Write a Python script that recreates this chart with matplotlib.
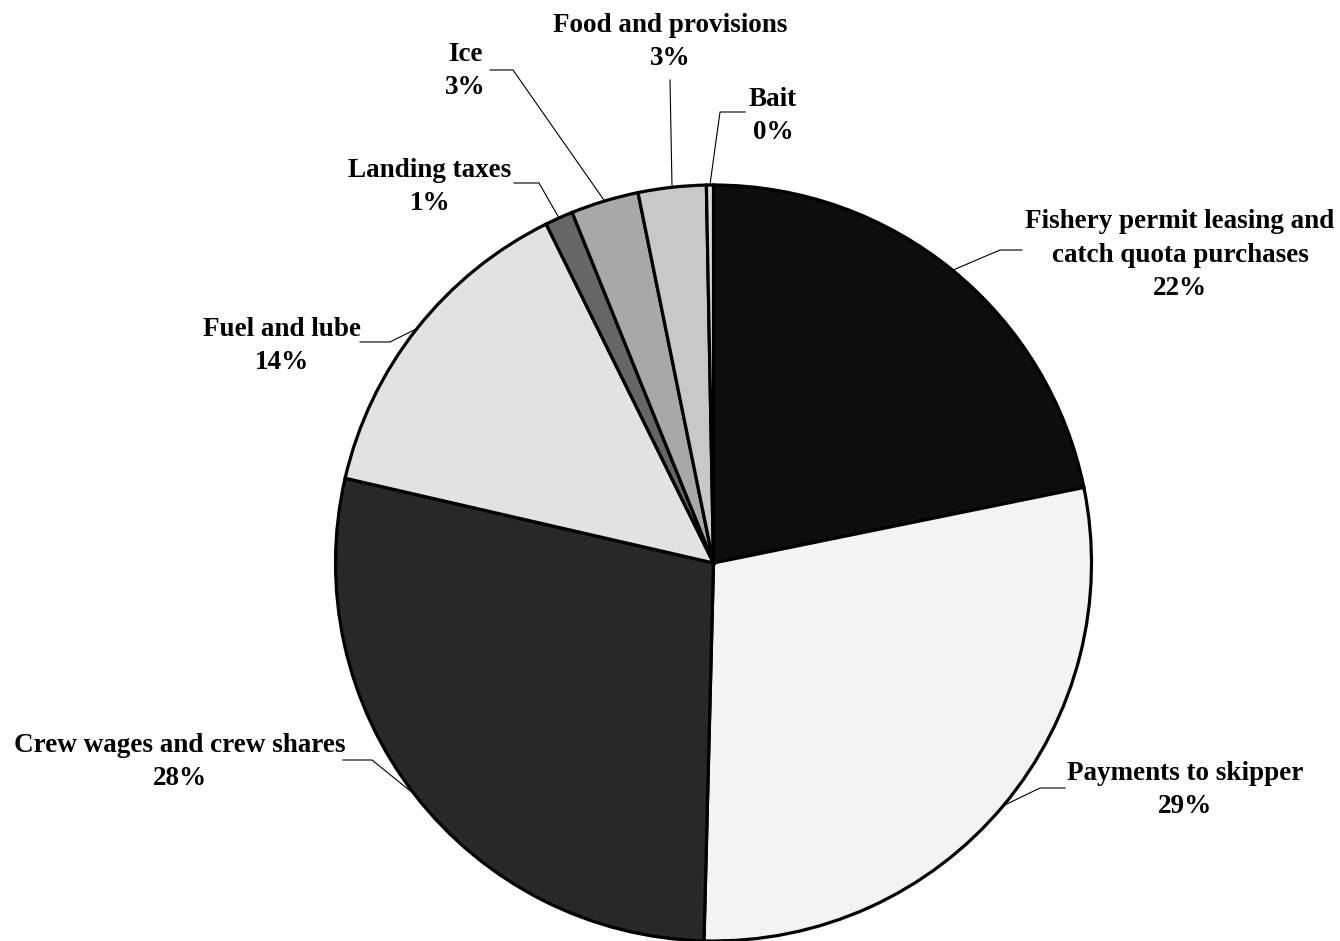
import numpy as np
import matplotlib.pyplot as plt

# cost shares, clockwise from 12 o'clock
names = ['Fishery permit leasing and\ncatch quota purchases', 'Payments to skipper',
         'Crew wages and crew shares', 'Fuel and lube', 'Landing taxes', 'Ice',
         'Food and provisions', 'Bait']
shares = [21.8, 28.6, 28.2, 14.1, 1.2, 2.9, 2.9, 0.3]

fills = ['#0d0d0d', '#f3f3f3', '#282828', '#e2e2e2', '#666666', '#a8a8a8', '#c8c8c8', '#d9d9d9']

# label layout in pixels: text centre, leader elbow, leader end
text_xy = [(1180, 255), (1185, 790), (180, 762), (282, 346), (430, 187), (465, 71), (670, 42), (773, 116)]
elbow_xy = [(1000, 250), (1040, 788), (372, 760), (390, 342), (539, 183), (513, 70), None, (720, 112)]
end_xy = [(1022, 250), (1065, 788), (343, 760), (360, 342), (514, 183), (490, 70), (670, 80), (745, 112)]

W, H = 1340, 941
cx, cy, R = 713.5, 563, 378

plt.rcParams['font.family'] = ['Liberation Serif', 'DejaVu Serif']

fig = plt.figure(figsize=(W / 100, H / 100), dpi=100)
ax = fig.add_axes([0, 0, 1, 1])

wedges, _ = ax.pie(shares, colors=fills, startangle=-90, counterclock=True,
                   center=(cx, cy), radius=R, frame=True,
                   wedgeprops=dict(edgecolor='black', linewidth=2.3))
ax.set_xlim(0, W)
ax.set_ylim(H, 0)
ax.set_aspect('equal')
ax.axis('off')

for i, w in enumerate(wedges):
    mid = np.deg2rad((w.theta1 + w.theta2) / 2)
    px = cx + R * np.cos(mid)
    py = cy + R * np.sin(mid)
    pts = [(px, py)]
    if elbow_xy[i] is not None:
        pts.append(elbow_xy[i])
    pts.append(end_xy[i])
    xs, ys = zip(*pts)
    ax.plot(xs, ys, color='black', linewidth=0.8, zorder=5)
    ax.text(text_xy[i][0], text_xy[i][1], '%s\n%.0f%%' % (names[i], shares[i]),
            ha='center', va='center', fontsize=19.5, fontweight='bold',
            linespacing=1.45, zorder=6)

fig.savefig('out.png', dpi=100, facecolor='white')
